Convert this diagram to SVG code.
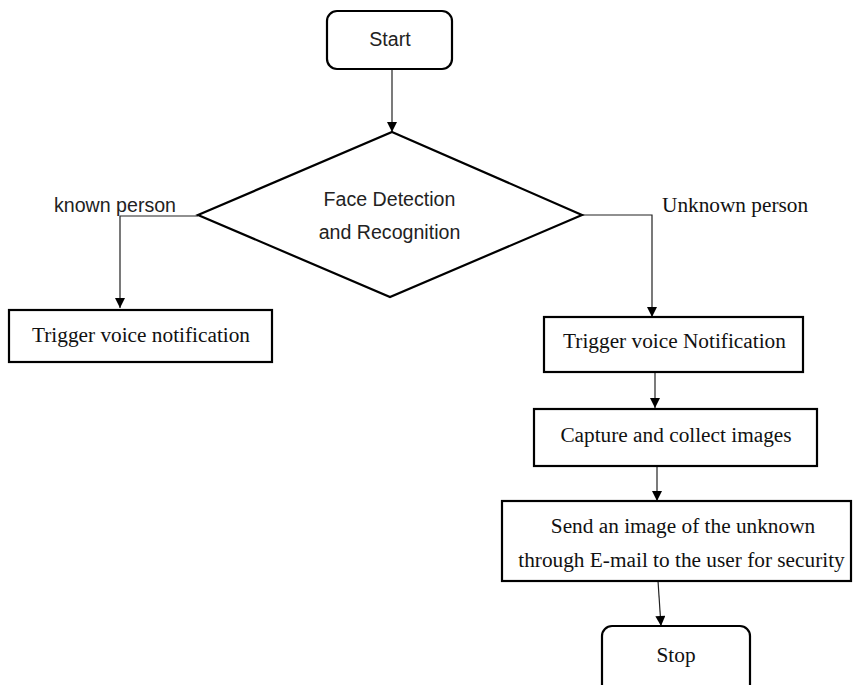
<svg xmlns="http://www.w3.org/2000/svg" width="853" height="685" viewBox="0 0 853 685">
<style>
.shape{fill:#fff;stroke:#000;stroke-width:2.2}
.conn{fill:none;stroke:#222;stroke-width:1.2}
.sans{font-family:"Liberation Sans",Arial,sans-serif;font-size:19.6px;fill:#222}
.serif{font-family:"Liberation Serif","Times New Roman",serif;font-size:21.3px;fill:#111}
</style>
<defs>
<marker id="arr" viewBox="0 0 10 10" refX="10" refY="5" markerWidth="11" markerHeight="10" markerUnits="userSpaceOnUse" orient="auto">
<path d="M0,0 L10,5 L0,10 Z" fill="#000"/>
</marker>
</defs>
<rect width="853" height="685" fill="#fff"/>
<g id="connectors">
<line class="conn" x1="392" y1="69" x2="392" y2="132" marker-end="url(#arr)"/>
<polyline class="conn" points="198,216 120,216 120,308" marker-end="url(#arr)"/>
<polyline class="conn" points="582,215 652,215 652,317" marker-end="url(#arr)"/>
<line class="conn" x1="655" y1="372" x2="655" y2="408" marker-end="url(#arr)"/>
<line class="conn" x1="657" y1="466" x2="657" y2="501" marker-end="url(#arr)"/>
<line class="conn" x1="658" y1="581" x2="661" y2="626" marker-end="url(#arr)"/>
</g>
<g id="start">
<rect class="shape" x="327" y="11" width="125" height="58" rx="10"/>
<text class="sans" x="390" y="46" text-anchor="middle">Start</text>
</g>
<g id="decision">
<polygon class="shape" points="392,132 582,215 390,297 198,215"/>
<text class="sans" x="389.5" y="206" text-anchor="middle">Face Detection</text>
<text class="sans" x="389.5" y="239" text-anchor="middle">and Recognition</text>
</g>
<g id="label-known">
<text class="sans" x="54" y="212">known person</text>
</g>
<g id="label-unknown">
<text class="serif" x="662" y="212">Unknown person</text>
</g>
<g id="known-notify">
<rect class="shape" x="9" y="310" width="263" height="52"/>
<text class="serif" x="141" y="342" text-anchor="middle">Trigger voice notification</text>
</g>
<g id="unknown-notify">
<rect class="shape" x="544" y="317" width="259" height="55"/>
<text class="serif" x="674.5" y="348" text-anchor="middle">Trigger voice Notification</text>
</g>
<g id="capture">
<rect class="shape" x="534" y="409" width="283" height="57"/>
<text class="serif" x="676" y="442" text-anchor="middle">Capture and collect images</text>
</g>
<g id="send">
<rect class="shape" x="502" y="501" width="349" height="80"/>
<text class="serif" x="683" y="533" text-anchor="middle">Send an image of the unknown</text>
<text class="serif" x="681.5" y="567" text-anchor="middle">through E-mail to the user for security</text>
</g>
<g id="stop">
<rect class="shape" x="602" y="626" width="148" height="72" rx="10"/>
<text class="serif" x="676" y="662" text-anchor="middle">Stop</text>
</g>
</svg>
